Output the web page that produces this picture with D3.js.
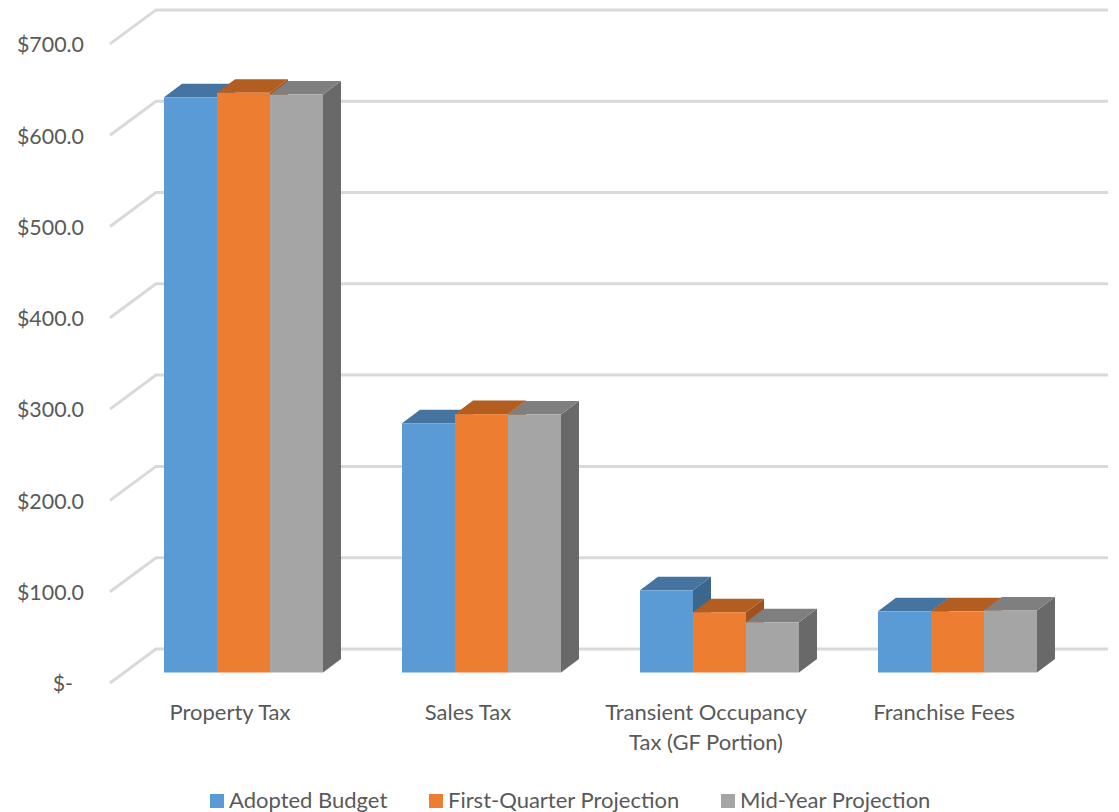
<!DOCTYPE html>
<html>
<head>
<meta charset="utf-8">
<script src="https://cdn.jsdelivr.net/npm/d3@7"></script>
<style>
  html, body { margin: 0; padding: 0; background: #fff; overflow: hidden; }
  text { font-family: Lato, "Open Sans", sans-serif; fill: #595959; }
</style>
</head>
<body>
<div id="mount"></div>
<script>
'use strict';

const categories = ['Property Tax', 'Sales Tax', 'Transient Occupancy|Tax (GF Portion)', 'Franchise Fees'];
const seriesNames = ['Adopted Budget', 'First-Quarter Projection', 'Mid-Year Projection'];
const adoptedBudget = [630, 273, 90, 67];
const firstQuarter = [635, 283, 66, 67];
const midYear = [633, 282.5, 55, 68];
const seriesValues = [adoptedBudget, firstQuarter, midYear];
const tickValues = [0, 100, 200, 300, 400, 500, 600, 700];

const frontColors = ['#5b9bd5', '#ed7d31', '#a5a5a5'];
const topColors = ['#44749f', '#b45d21', '#7f7f7f'];
const sideColors = ['#3b668e', '#a0521d', '#696969'];

const width = 1119, height = 812;

// 3d offsets: how far a bar's top/side runs back, and how far the walls do
const barDepth = { x: 18, y: 13.5 };
const wall = { left: 110, back: 156, right: 1108, frontDrop: 10.5, backRise: 23.5 };

const svg = d3.select('#mount').append('svg')
    .attr('width', width)
    .attr('height', height)
    .style('display', 'block');

const y = d3.scaleLinear().domain([0, 700]).range([672.5, 33.4]);

const x0 = d3.scaleBand()
    .domain(categories)
    .range([124.5, 1076.5])
    .paddingInner(0.332)
    .paddingOuter(0.166);

const x1 = d3.scaleBand()
    .domain(seriesNames)
    .range([0, x0.bandwidth()]);

// gridlines on the wall: a slanted bit on the side wall and then the back wall
const line = d3.line();
svg.append('g').selectAll('path')
  .data(tickValues)
  .join('path')
    .attr('d', v => line([
      [wall.left, y(v) + wall.frontDrop],
      [wall.back, y(v) - wall.backRise],
      [wall.right, y(v) - wall.backRise]
    ]))
    .attr('fill', 'none')
    .attr('stroke', '#d9d9d9')
    .attr('stroke-width', 3);

// y axis labels, "$-" for zero sits further in like the accounting format does
const yAxis = d3.axisLeft(y)
    .tickValues(tickValues)
    .tickSize(0)
    .tickFormat(v => v === 0 ? '$-' : '$' + v.toFixed(1));

const yAxisG = svg.append('g')
    .attr('transform', 'translate(84, 11.5)')
    .call(yAxis);
yAxisG.select('.domain').remove();
yAxisG.selectAll('text')
    .attr('x', v => v === 0 ? -11 : 0)
    .attr('text-anchor', 'end')
    .style('font-family', 'Lato, "Open Sans", sans-serif')
    .style('font-size', '21.4px')
    .style('fill', '#595959');

// bars, left to right so later tops paint over earlier sides
const groups = svg.append('g').selectAll('g')
  .data(categories)
  .join('g')
    .attr('transform', d => `translate(${x0(d)}, 0)`);

seriesNames.forEach((name, s) => {
  const values = seriesValues[s];
  const bar = groups.append('g');
  const left = () => x1(name);
  const right = () => x1(name) + x1.bandwidth();

  bar.append('path')
      .attr('d', (d, i) => line([
        [right(), y(values[i])],
        [right() + barDepth.x, y(values[i]) - barDepth.y],
        [right() + barDepth.x, y(0) - barDepth.y],
        [right(), y(0)]
      ]) + 'Z')
      .attr('fill', sideColors[s]);

  bar.append('path')
      .attr('d', (d, i) => line([
        [left(), y(values[i])],
        [left() + barDepth.x, y(values[i]) - barDepth.y],
        [right() + barDepth.x, y(values[i]) - barDepth.y],
        [right(), y(values[i])]
      ]) + 'Z')
      .attr('fill', topColors[s]);

  bar.append('rect')
      .attr('x', left())
      .attr('y', (d, i) => y(values[i]))
      .attr('width', x1.bandwidth())
      .attr('height', (d, i) => y(0) - y(values[i]))
      .attr('fill', frontColors[s]);
});

// category labels, sit a little left of the bars because of the 3d shift
const labels = svg.append('g').selectAll('text')
  .data(categories)
  .join('text')
    .attr('text-anchor', 'middle')
    .attr('font-size', 22);

labels.selectAll('tspan')
  .data(d => d.split('|').map(t => ({ t, d })))
  .join('tspan')
    .attr('x', o => x0(o.d) + x0.bandwidth() / 2 - 13.5)
    .attr('y', (o, i) => 720 + i * 30)
    .text(o => o.t);

// legend
const legendX = [210, 429, 721];
const legend = svg.append('g').selectAll('g')
  .data(seriesNames)
  .join('g')
    .attr('transform', (d, i) => `translate(${legendX[i]}, 794)`);

legend.append('rect')
    .attr('width', 14)
    .attr('height', 14)
    .attr('fill', (d, i) => frontColors[i]);

legend.append('text')
    .attr('x', 19)
    .attr('y', 14)
    .attr('font-size', 22)
    .text(d => d);
</script>
</body>
</html>
